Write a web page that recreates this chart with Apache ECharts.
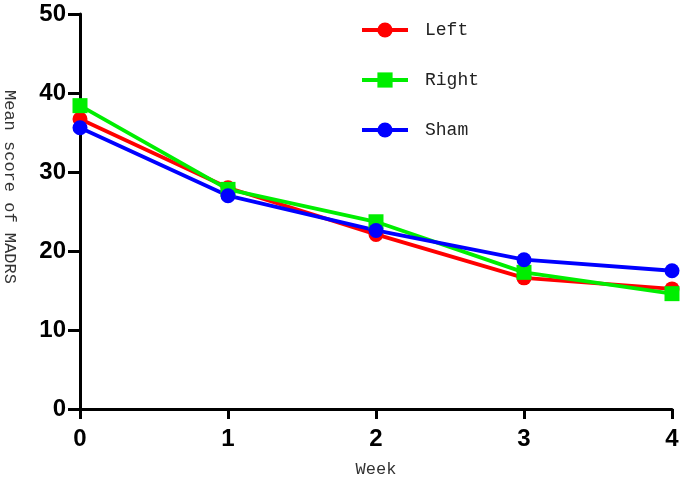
<!DOCTYPE html>
<html><head><meta charset="utf-8">
<script src="https://cdn.jsdelivr.net/npm/echarts@6/dist/echarts.min.js"></script>
<style>html,body{margin:0;padding:0;background:#fff}#c{width:685px;height:483px}</style>
</head><body><div id="c"></div>
<script>
const weeks = ['0','1','2','3','4'];
const leftVals = [36.7, 28.0, 22.1, 16.6, 15.2];
const rightVals = [38.4, 27.8, 23.7, 17.3, 14.6];
const shamVals = [35.6, 27.0, 22.6, 18.9, 17.5];
const yTicks = [0, 10, 20, 30, 40, 50];

const chart = echarts.init(document.getElementById('c'));
const lineW = 3.8;
function s(name, data, color, symbol, size) {
  return {name, type:'line', data, symbol, symbolSize:size,
    lineStyle:{color, width:lineW}, itemStyle:{color}, z: 3};
}
chart.setOption({
  animation:false,
  backgroundColor:'#fff',
  grid:{left:80, right:13, top:14, bottom:71},
  legend:{
    orient:'vertical', left:355, top:16, itemGap:32, itemWidth:46, itemHeight:19,
    lineStyle:{width:4},
    textStyle:{fontFamily:'Liberation Mono', fontSize:18, color:'#222', padding:[0,0,0,12]},
    data:['Left','Right','Sham']
  },
  xAxis:{
    type:'category', data:weeks, boundaryGap:false,
    name:'Week', nameLocation:'middle', nameGap:52,
    nameTextStyle:{fontFamily:'Liberation Mono', fontSize:17, color:'#333'},
    axisLine:{lineStyle:{color:'#000', width:3}},
    axisTick:{lineStyle:{color:'#000', width:3}, length:10, alignWithLabel:true},
    axisLabel:{fontFamily:'Liberation Sans', fontWeight:'bold', fontSize:24, color:'#000', margin:18},
    splitLine:{show:false}
  },
  yAxis:{
    type:'value', min:yTicks[0], max:yTicks[yTicks.length-1], interval:10,
    axisLine:{show:true, lineStyle:{color:'#000', width:3}},
    axisTick:{show:true, lineStyle:{color:'#000', width:3}, length:12},
    axisLabel:{fontFamily:'Liberation Sans', fontWeight:'bold', fontSize:24, color:'#000', margin:14},
    splitLine:{show:false}
  },
  graphic:[{type:'text', left:1, top:90, rotation:-Math.PI/2, originX:0, originY:0,
    style:{text:'Mean score of MADRS', fontFamily:'Liberation Mono', fontSize:17, fill:'#333'}}],
  series:[
    s('Left', leftVals, '#ff0000', 'circle', 15),
    s('Right', rightVals, '#00ee00', 'rect', 15),
    s('Sham', shamVals, '#0000ff', 'circle', 15)
  ]
});
</script></body></html>
